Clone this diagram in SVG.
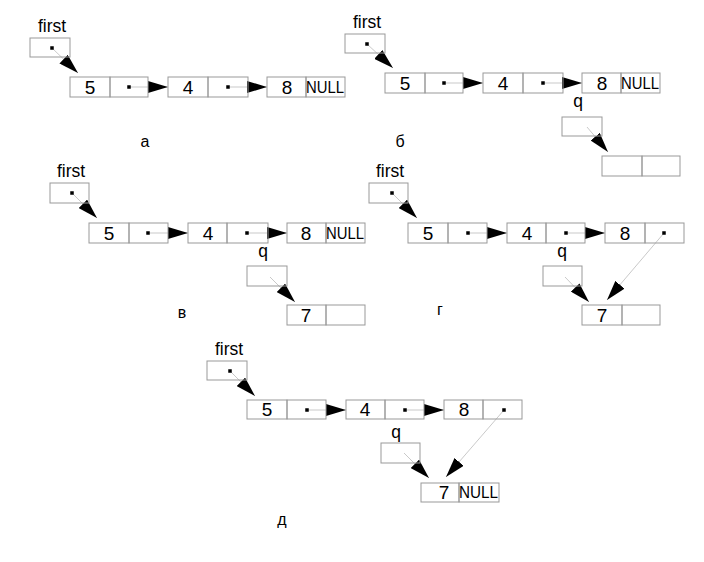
<svg xmlns="http://www.w3.org/2000/svg" width="704" height="562" viewBox="0 0 704 562">
<style>
.box{fill:none;stroke:#999;stroke-width:1}
.ln{stroke:#bbb;stroke-width:0.8;fill:none;marker-end:url(#ah)}
.dot{fill:#000}
.v{font-family:"Liberation Sans",Arial,sans-serif;font-size:19px;text-anchor:middle;fill:#000}
.nl{font-family:"Liberation Sans",Arial,sans-serif;font-size:17px;fill:#000}
.lb{font-family:"Liberation Sans",Arial,sans-serif;font-size:17.5px;text-anchor:middle;fill:#000}
.cap{font-family:"Liberation Sans",Arial,sans-serif;font-size:16px;text-anchor:middle;fill:#000}
</style>
<defs>
<marker id="ah" viewBox="0 0 20 12" refX="20" refY="6" markerWidth="20" markerHeight="12" markerUnits="userSpaceOnUse" orient="auto">
<path d="M0,0 L20,6 L0,12 z" fill="#000"/>
</marker>
<g id="dotc"><rect x="-1.75" y="-1.75" width="3.5" height="3.5" class="dot"/></g>
</defs>
<rect width="704" height="562" fill="#fff"/>

<!-- Connectors -->
<g id="connectors">
<line class="ln" x1="52" y1="48" x2="78" y2="73"/>
<line class="ln" x1="129" y1="87" x2="168" y2="87"/>
<line class="ln" x1="228" y1="87" x2="267" y2="87"/>

<line class="ln" x1="367" y1="44" x2="393" y2="68"/>
<line class="ln" x1="444" y1="83" x2="483" y2="83"/>
<line class="ln" x1="543" y1="83" x2="582" y2="83"/>
<line class="ln" x1="587" y1="127" x2="608" y2="152"/>

<line class="ln" x1="72" y1="193" x2="97" y2="218"/>
<line class="ln" x1="148" y1="233" x2="188" y2="233"/>
<line class="ln" x1="247" y1="233" x2="287" y2="233"/>
<line class="ln" x1="270" y1="277" x2="295" y2="302"/>

<line class="ln" x1="392" y1="193" x2="417" y2="218"/>
<line class="ln" x1="468" y1="233" x2="507" y2="233"/>
<line class="ln" x1="566" y1="233" x2="605" y2="233"/>
<line class="ln" x1="664" y1="233" x2="607" y2="300"/>
<line class="ln" x1="565" y1="277" x2="589" y2="302"/>

<line class="ln" x1="230" y1="371" x2="255" y2="396"/>
<line class="ln" x1="307" y1="410" x2="346" y2="410"/>
<line class="ln" x1="405" y1="410" x2="444" y2="410"/>
<line class="ln" x1="504" y1="410" x2="446" y2="477"/>
<line class="ln" x1="404" y1="453" x2="429" y2="478"/>
</g>

<!-- Diagram a -->
<g id="diag-a">
<g id="a-first"><text class="lb" x="52" y="32">first</text><rect class="box" x="30" y="38" width="40" height="19"/><use href="#dotc" x="52" y="48"/></g>
<g id="a-n5"><rect class="box" x="70" y="77" width="40" height="20"/><rect class="box" x="110" y="77" width="38" height="20"/><text class="v" x="90" y="94">5</text><use href="#dotc" x="129" y="87"/></g>
<g id="a-n4"><rect class="box" x="168" y="77" width="40" height="20"/><rect class="box" x="208" y="77" width="40" height="20"/><text class="v" x="188" y="94">4</text><use href="#dotc" x="228" y="87"/></g>
<g id="a-n8"><rect class="box" x="267" y="77" width="39" height="20"/><rect class="box" x="306" y="77" width="39" height="20"/><text class="v" x="287" y="94">8</text><text class="nl" x="306" y="93" textLength="38" lengthAdjust="spacingAndGlyphs">NULL</text></g>
<text class="cap" x="145" y="147">а</text>
</g>

<!-- Diagram b -->
<g id="diag-b">
<g id="b-first"><text class="lb" x="367" y="28">first</text><rect class="box" x="345" y="34" width="40" height="19"/><use href="#dotc" x="367" y="44"/></g>
<g id="b-n5"><rect class="box" x="385" y="73" width="40" height="20"/><rect class="box" x="425" y="73" width="38" height="20"/><text class="v" x="405" y="90">5</text><use href="#dotc" x="444" y="83"/></g>
<g id="b-n4"><rect class="box" x="483" y="73" width="40" height="20"/><rect class="box" x="523" y="73" width="40" height="20"/><text class="v" x="503" y="90">4</text><use href="#dotc" x="543" y="83"/></g>
<g id="b-n8"><rect class="box" x="582" y="73" width="39" height="20"/><rect class="box" x="621" y="73" width="39" height="20"/><text class="v" x="602" y="90">8</text><text class="nl" x="621" y="89" textLength="38" lengthAdjust="spacingAndGlyphs">NULL</text></g>
<g id="b-q"><text class="lb" x="578" y="107">q</text><rect class="box" x="562" y="117" width="40" height="19"/></g>
<g id="b-new"><rect class="box" x="602" y="156" width="40" height="20"/><rect class="box" x="642" y="156" width="38" height="20"/></g>
<text class="cap" x="400" y="147">б</text>
</g>

<!-- Diagram v -->
<g id="diag-v">
<g id="v-first"><text class="lb" x="71" y="177">first</text><rect class="box" x="50" y="183" width="39" height="20"/><use href="#dotc" x="72" y="193"/></g>
<g id="v-n5"><rect class="box" x="89" y="223" width="40" height="20"/><rect class="box" x="129" y="223" width="39" height="20"/><text class="v" x="109" y="240">5</text><use href="#dotc" x="148" y="233"/></g>
<g id="v-n4"><rect class="box" x="188" y="223" width="39" height="20"/><rect class="box" x="227" y="223" width="41" height="20"/><text class="v" x="208" y="240">4</text><use href="#dotc" x="247" y="233"/></g>
<g id="v-n8"><rect class="box" x="287" y="223" width="39" height="20"/><rect class="box" x="326" y="223" width="39" height="20"/><text class="v" x="306" y="240">8</text><text class="nl" x="326" y="239" textLength="38" lengthAdjust="spacingAndGlyphs">NULL</text></g>
<g id="v-q"><text class="lb" x="263" y="257">q</text><rect class="box" x="247" y="266" width="40" height="20"/></g>
<g id="v-n7"><rect class="box" x="287" y="305" width="39" height="20"/><rect class="box" x="326" y="305" width="39" height="20"/><text class="v" x="306" y="322">7</text></g>
<text class="cap" x="182" y="318">в</text>
</g>

<!-- Diagram g -->
<g id="diag-g">
<g id="g-first"><text class="lb" x="390" y="177">first</text><rect class="box" x="369" y="183" width="39" height="20"/><use href="#dotc" x="392" y="193"/></g>
<g id="g-n5"><rect class="box" x="408" y="223" width="40" height="20"/><rect class="box" x="448" y="223" width="39" height="20"/><text class="v" x="428" y="240">5</text><use href="#dotc" x="468" y="233"/></g>
<g id="g-n4"><rect class="box" x="507" y="223" width="39" height="20"/><rect class="box" x="546" y="223" width="39" height="20"/><text class="v" x="527" y="240">4</text><use href="#dotc" x="566" y="233"/></g>
<g id="g-n8"><rect class="box" x="605" y="223" width="40" height="20"/><rect class="box" x="645" y="223" width="39" height="20"/><text class="v" x="625" y="240">8</text><use href="#dotc" x="664" y="233"/></g>
<g id="g-q"><text class="lb" x="562" y="257">q</text><rect class="box" x="543" y="266" width="39" height="20"/></g>
<g id="g-n7"><rect class="box" x="582" y="305" width="40" height="20"/><rect class="box" x="622" y="305" width="38" height="20"/><text class="v" x="602" y="322">7</text></g>
<text class="cap" x="440" y="315">г</text>
</g>

<!-- Diagram d -->
<g id="diag-d">
<g id="d-first"><text class="lb" x="229" y="355">first</text><rect class="box" x="207" y="361" width="40" height="19"/><use href="#dotc" x="230" y="371"/></g>
<g id="d-n5"><rect class="box" x="247" y="400" width="40" height="19"/><rect class="box" x="287" y="400" width="39" height="19"/><text class="v" x="267" y="416">5</text><use href="#dotc" x="307" y="410"/></g>
<g id="d-n4"><rect class="box" x="346" y="400" width="39" height="19"/><rect class="box" x="385" y="400" width="39" height="19"/><text class="v" x="365" y="416">4</text><use href="#dotc" x="405" y="410"/></g>
<g id="d-n8"><rect class="box" x="444" y="400" width="39" height="19"/><rect class="box" x="483" y="400" width="39" height="19"/><text class="v" x="464" y="416">8</text><use href="#dotc" x="504" y="410"/></g>
<g id="d-q"><text class="lb" x="396" y="438">q</text><rect class="box" x="381" y="443" width="39" height="20"/></g>
<g id="d-n7"><rect class="box" x="421" y="483" width="38" height="19"/><rect class="box" x="459" y="483" width="40" height="19"/><text class="v" x="444" y="499">7</text><text class="nl" x="459" y="498" textLength="39" lengthAdjust="spacingAndGlyphs">NULL</text></g>
<text class="cap" x="282" y="525">д</text>
</g>
</svg>
